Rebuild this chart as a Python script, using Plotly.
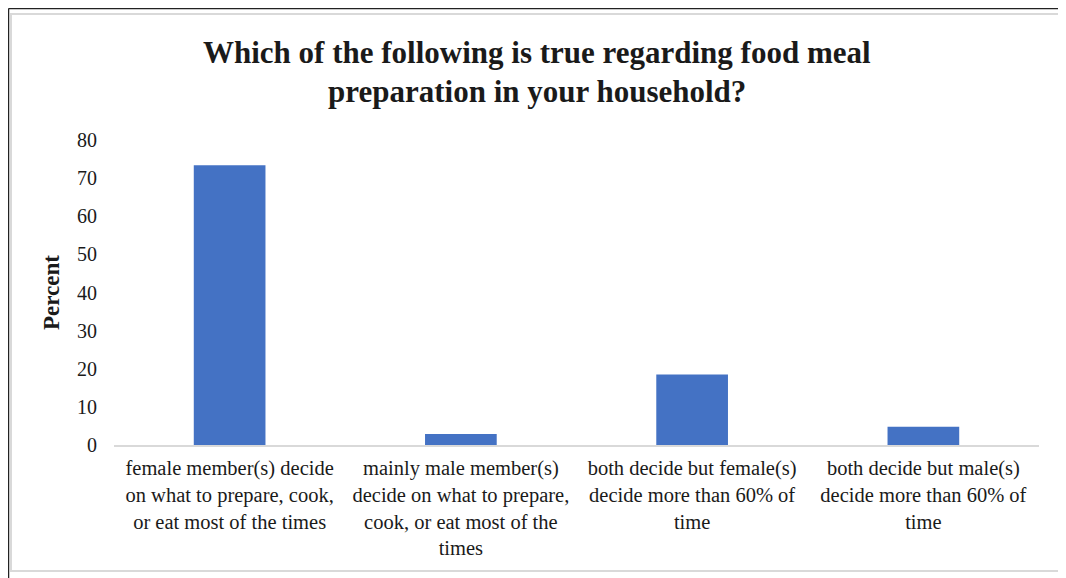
import plotly.graph_objects as go

categories = [
    "female member(s) decide<br>on what to prepare, cook,<br>or eat most of the times",
    "mainly male member(s)<br>decide on what to prepare,<br>cook, or eat most of the<br>times",
    "both decide but female(s)<br>decide more than 60% of<br>time",
    "both decide but male(s)<br>decide more than 60% of<br>time",
]
values = [73.4, 2.9, 18.5, 4.8]
y_ticks = [0, 10, 20, 30, 40, 50, 60, 70, 80]
title_lines = [
    "Which of the following is true regarding food meal",
    "preparation in your household?",
]

# page body has an 8px margin; figure coordinates are window coordinates - 8
OFF = 8
W, H = 1066 - OFF, 578 - OFF
L, R, T, B = 114 - OFF, 1039 - OFF, 140 - OFF, 445 - OFF
FONT = "Liberation Serif"
TXT = "#1a1a1a"

def px(x):
    return (x - L) / (R - L)

def py(y):
    return (B - y) / (B - T)

fig = go.Figure(go.Bar(
    x=categories, y=values,
    marker=dict(color="#4472C4", line=dict(width=0)),
))

title_y = [52 - OFF, 92 - OFF]
annotations = [
    dict(text="<b>%s</b>" % t, xref="paper", yref="paper",
         x=px(537 - OFF), y=py(yy), xanchor="center", yanchor="middle",
         showarrow=False, font=dict(family=FONT, size=31, color=TXT))
    for t, yy in zip(title_lines, title_y)
]

fig.update_layout(
    width=W, height=H,
    margin=dict(l=L, r=W - R, t=T, b=H - B, pad=0),
    paper_bgcolor="white", plot_bgcolor="white",
    bargap=0.69,
    showlegend=False,
    annotations=annotations,
    font=dict(family=FONT, color=TXT),
    xaxis=dict(
        showgrid=False, showline=True, linecolor="#d9d9d9", linewidth=1.5,
        ticks="", tickfont=dict(family=FONT, size=20.5, color=TXT),
        ticklabelstandoff=4,
    ),
    yaxis=dict(
        range=[0, 80], tickvals=y_ticks, showgrid=False, zeroline=False,
        showline=False, ticks="",
        tickfont=dict(family=FONT, size=20, color=TXT),
        ticklabelstandoff=16,
        title=dict(text="<b>Percent</b>", font=dict(family=FONT, size=23, color=TXT),
                   standoff=10),
    ),
    shapes=[
        dict(type="rect", xref="paper", yref="paper",
             x0=px(11 - OFF), x1=px(1063 - OFF), y0=py(571 - OFF), y1=py(14 - OFF),
             line=dict(color="#d9d9d9", width=2), layer="below"),
        dict(type="line", xref="paper", yref="paper",
             x0=px(0.5), x1=px(W), y0=py(0.5), y1=py(0.5),
             line=dict(color="#222222", width=1.5)),
        dict(type="line", xref="paper", yref="paper",
             x0=px(0.5), x1=px(0.5), y0=py(0.5), y1=py(H),
             line=dict(color="#222222", width=1.5)),
    ],
)

fig.write_html("out.html")
